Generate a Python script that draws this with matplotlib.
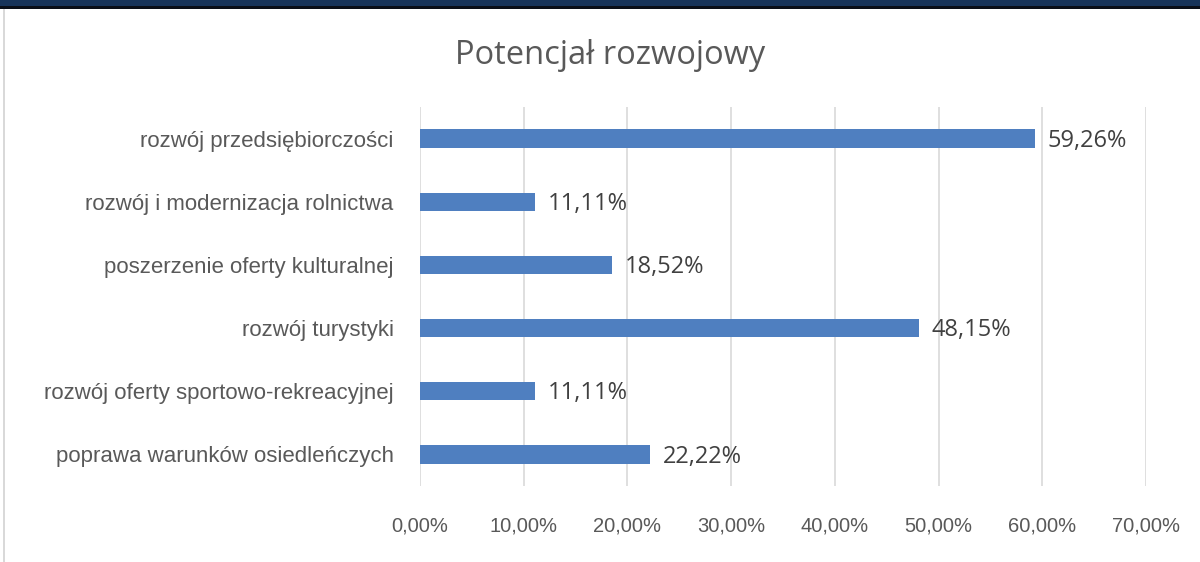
import matplotlib
matplotlib.use("Agg")
import matplotlib.pyplot as plt
from matplotlib.patches import Rectangle
from matplotlib.ticker import FuncFormatter, MultipleLocator

categories = [
    "rozwój przedsiębiorczości",
    "rozwój i modernizacja rolnictwa",
    "poszerzenie oferty kulturalnej",
    "rozwój turystyki",
    "rozwój oferty sportowo-rekreacyjnej",
    "poprawa warunków osiedleńczych",
]
values = [59.26, 11.11, 18.52, 48.15, 11.11, 22.22]
title = "Potencjał rozwojowy"

plt.rcParams['font.family'] = ['Liberation Sans', 'DejaVu Sans']

W, H = 1200, 562
fig = plt.figure(figsize=(W/100, H/100), dpi=100)
fig.patch.set_facecolor('white')

# top band and left border
fig.patches.append(Rectangle((0, 1 - 7/H), 1, 7/H, transform=fig.transFigure,
                             facecolor='#17345a', edgecolor='none', zorder=0))
fig.patches.append(Rectangle((0, 1 - 9/H), 1, 2.5/H, transform=fig.transFigure,
                             facecolor='#0a0f18', edgecolor='none', zorder=0))
fig.patches.append(Rectangle((3/W, 0), 2/W, 1 - 9/H, transform=fig.transFigure,
                             facecolor='#d9d9d9', edgecolor='none', zorder=0))

left, right = 420/W, 1146/W
top, bottom = 1 - 107/H, 1 - 486/H
ax = fig.add_axes([left, bottom, right - left, top - bottom])

n = len(categories)
ypos = list(range(n))[::-1]
ax.barh(ypos, values, height=0.29, color='#4f7fc0', zorder=3)
ax.set_ylim(-0.5, n - 0.5)
ax.set_xlim(0, 70)
ax.xaxis.set_major_locator(MultipleLocator(10))
ax.xaxis.set_major_formatter(FuncFormatter(lambda v, p: f"{v:.2f}%".replace('.', ',')))
ax.grid(axis='x', color='#d9d9d9', linewidth=1.2, zorder=0)
for s in ax.spines.values():
    s.set_visible(False)
ax.tick_params(axis='x', length=0, pad=22, labelsize=14.5, labelcolor='#595959')
ax.tick_params(axis='y', length=0, pad=19, labelsize=16, labelcolor='#595959')
ax.set_yticks(ypos)
ax.set_yticklabels(categories)

for y, v in zip(ypos, values):
    ax.annotate(f"{v:.2f}%".replace('.', ','), (v, y), xytext=(9, -1.5),
                textcoords='offset points', ha='left', va='center',
                fontsize=17, color='#404040', family=['Open Sans', 'DejaVu Sans'])

fig.text(610/W, 1 - 55/H, title, ha='center', va='center', fontsize=23.5,
         color='#595959', family=['Open Sans', 'DejaVu Sans'])

fig.savefig('out.png', dpi=100)
